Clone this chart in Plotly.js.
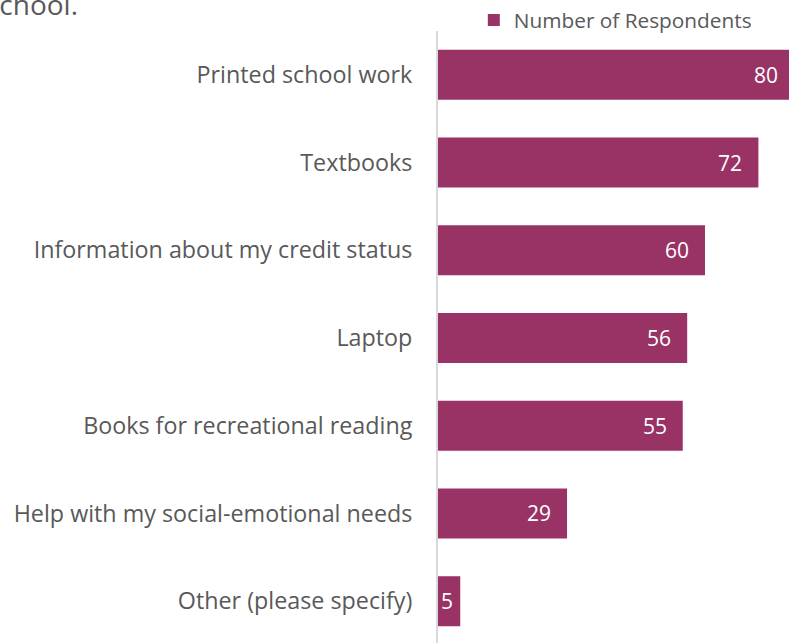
<!DOCTYPE html>
<html><head><meta charset="utf-8">
<script src="https://cdn.plot.ly/plotly-3.0.1.min.js"></script>
<style>html,body{margin:0;padding:0;background:#fff;overflow:hidden;}</style>
</head><body>
<div id="chart" style="width:795px;height:646px;"></div>
<script>
const categories = ["Printed school work","Textbooks","Information about my credit status","Laptop","Books for recreational reading","Help with my social-emotional needs","Other (please specify)"];
const values = [80,72,60,56,55,29,5];
const seriesName = "Number of Respondents";
const titleTail = "school.";

const FONT = "'Open Sans', sans-serif";
const trace = {
  type: "bar", orientation: "h",
  y: categories, x: values, name: seriesName,
  marker: {color: "#993366"},
  hoverinfo: "skip", showlegend: true
};
const xMax = 80;
const labelAnns = values.map((v, i) => {
  const small = v < xMax * 0.1;
  return {
    x: small ? v / 2 : v, y: categories[i], xref: "x", yref: "y",
    text: String(v), showarrow: false,
    xanchor: small ? "center" : "right", xshift: small ? -2 : -14,
    font: {family: FONT, size: 21, color: "#ffffff"}
  };
});
const layout = {
  width: 795, height: 646,
  margin: {l: 438, r: 1, t: 31, b: 1, autoexpand: false},
  paper_bgcolor: "#fff", plot_bgcolor: "#fff",
  bargap: 0.43,
  showlegend: true,
  font: {family: FONT, color: "#595959"},
  xaxis: {range: [0, xMax], showgrid: false, zeroline: false, showticklabels: false, ticks: "", showline: false, fixedrange: true},
  yaxis: {autorange: "reversed", showline: true, linecolor: "#d9d9d9", linewidth: 2, ticks: "", tickfont: {family: FONT, size: 23.3, color: "#595959"}, ticklabelstandoff: 19, showgrid: false, fixedrange: true},
  legend: {orientation: "h", xref: "container", yref: "container", x: 0.596, xanchor: "left", y: 1, yanchor: "top", font: {family: FONT, size: 20.8, color: "#595959"}, itemwidth: 30, bgcolor: "rgba(0,0,0,0)"},
  annotations: labelAnns.concat([{text: titleTail, xref: "paper", yref: "paper", x: 0, xanchor: "right", xshift: 80 - 438, y: 1, yanchor: "bottom", yshift: 6, showarrow: false, font: {family: FONT, size: 28, color: "#595959"}}])
};
Plotly.newPlot("chart", [trace], layout, {displayModeBar: false, staticPlot: true});
</script>
</body></html>
